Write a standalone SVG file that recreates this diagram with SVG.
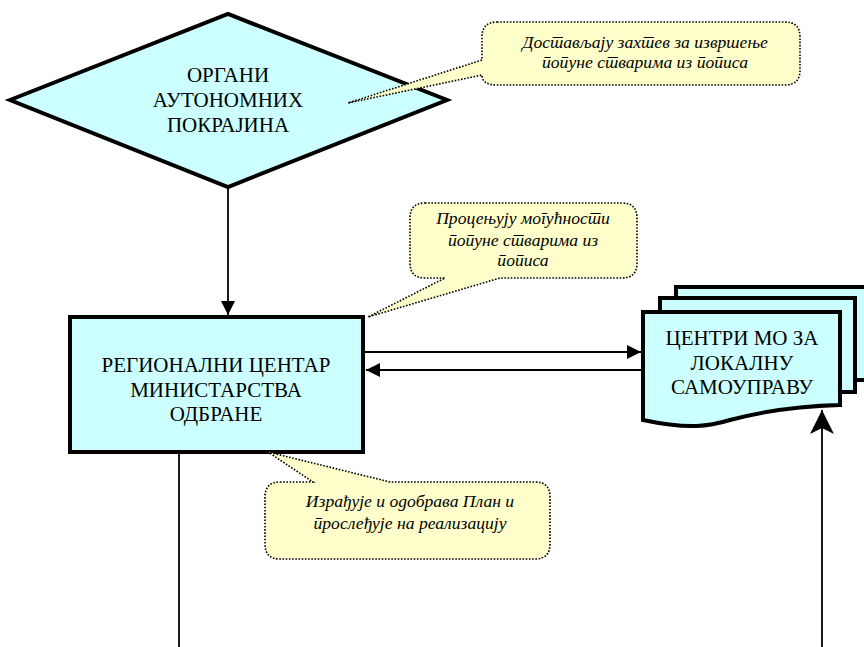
<svg xmlns="http://www.w3.org/2000/svg" width="864" height="647" viewBox="0 0 864 647">
<defs>
<style>
.node{fill:#CCFFFF;stroke:#000;stroke-width:4;stroke-linejoin:miter}
.lbl{font-size:21px;fill:#000;text-anchor:middle}
.call{fill:#FFFFCC;stroke:#000;stroke-width:1.6;stroke-dasharray:1.6 1.6}
.ct{font-size:17.6px;font-style:italic;fill:#000;text-anchor:middle}
.con{fill:none;stroke:#000;stroke-width:1.8}
</style>
<marker id="ah" markerUnits="userSpaceOnUse" markerWidth="16" markerHeight="14" refX="14" refY="7" orient="auto">
<path d="M0,0 L14,7 L0,14 Z" fill="#000"/>
</marker>
<marker id="ah2" markerUnits="userSpaceOnUse" markerWidth="26" markerHeight="26" refX="24" refY="12" orient="auto">
<path d="M0,0 L24,12 L0,24 L6,12 Z" fill="#000"/>
</marker>
</defs>
<rect width="864" height="647" fill="#fff"/>

<g id="connectors">
<line class="con" x1="228" y1="187" x2="228" y2="315" marker-end="url(#ah)"/>
<line class="con" x1="365" y1="352" x2="641" y2="352" marker-end="url(#ah)"/>
<line class="con" x1="641" y1="370" x2="366" y2="370" marker-end="url(#ah)"/>
<line class="con" x1="179" y1="452" x2="179" y2="647"/>
<line class="con" x1="822" y1="647" x2="822" y2="410" marker-end="url(#ah2)"/>
</g>

<g font-family="Liberation Serif, Times New Roman, serif">
<g id="node-organi">
<polygon class="node" points="10,100 228,14 447,100 228,187"/>
<text class="lbl" x="228" y="82">ОРГАНИ</text>
<text class="lbl" x="228" y="107">АУТОНОМНИХ</text>
<text class="lbl" x="228" y="132">ПОКРАЈИНА</text>
</g>

<g id="node-regionalni">
<rect class="node" x="70" y="317" width="293" height="135"/>
<text class="lbl" x="216" y="372">РЕГИОНАЛНИ ЦЕНТАР</text>
<text class="lbl" x="216" y="397">МИНИСТАРСТВА</text>
<text class="lbl" x="216" y="421">ОДБРАНЕ</text>
</g>

<g id="node-centri">
<rect class="node" x="676" y="287" width="210" height="93"/>
<rect class="node" x="660" y="298" width="195" height="94"/>
<path class="node" d="M643,312 H840 V405 C800,406 760,412 730,420 C710,426 690,430 643,420 Z"/>
<text class="lbl" x="742" y="345">ЦЕНТРИ МО ЗА</text>
<text class="lbl" x="742" y="370">ЛОКАЛНУ</text>
<text class="lbl" x="742" y="394">САМОУПРАВУ</text>
</g>

<g id="callout-1" xml:lang="sr">
<path class="call" d="M497,22 H785 Q800,22 800,37 V70 Q800,85 785,85 H497 Q482,85 482,75 L348,103 L482,60 V37 Q482,22 497,22 Z"/>
<text class="ct" x="645" y="48">Достављају захтев за извршење</text>
<text class="ct" x="645" y="68">попуне стварима из пописа</text>
</g>

<g id="callout-2" xml:lang="sr">
<path class="call" d="M425,203 H622 Q637,203 637,218 V263 Q637,278 622,278 H500 L368,317 L445,278 H425 Q410,278 410,263 V218 Q410,203 425,203 Z"/>
<text class="ct" x="523" y="224">Процењују могућности</text>
<text class="ct" x="523" y="246">попуне стварима из</text>
<text class="ct" x="523" y="266">пописа</text>
</g>

<g id="callout-3" xml:lang="sr">
<path class="call" d="M280,482 H313 L268,452 L390,482 H535 Q550,482 550,497 V544 Q550,559 535,559 H280 Q265,559 265,544 V497 Q265,482 280,482 Z"/>
<text class="ct" x="410" y="507">Израђује и одобрава План и</text>
<text class="ct" x="410" y="529">прослеђује на реализацију</text>
</g>
</g>
</svg>
